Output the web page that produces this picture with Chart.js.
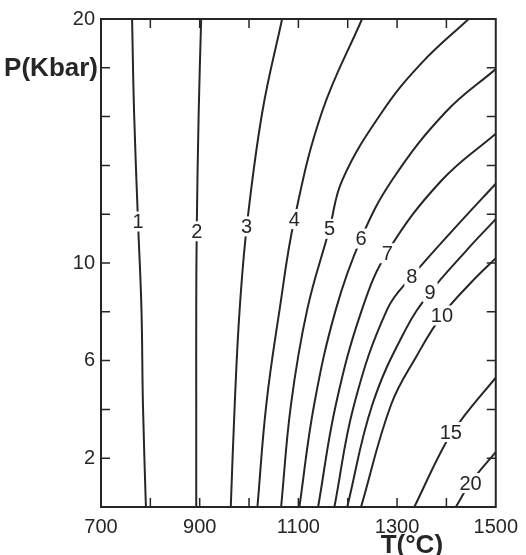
<!DOCTYPE html>
<html>
<head>
<meta charset="utf-8">
<script src="https://cdn.jsdelivr.net/npm/chart.js@4.4.1/dist/chart.umd.min.js"></script>
<style>
  html, body { margin: 0; padding: 0; background: #fff; }
</style>
</head>
<body>
<canvas id="chart" width="526" height="555"></canvas>
<script>
// curves as [T (°C), P (kbar)] pairs
const curve1 = [[791,0],[785,4.2],[782,8.1],[775,11.7],[767,16.2],[763,20]];
const curve2 = [[893,0],[893,4.2],[893,8.1],[894,11.3],[898,16.2],[903,20]];
const curve3 = [[963,0],[971,4.2],[981,8.1],[996,11.6],[1027,16.2],[1067,20]];
const curve4 = [[1017,0],[1035,4.2],[1062,8.1],[1092,11.8],[1148,16.2],[1229,20]];
const curve5 = [[1065,0],[1085,4.2],[1118,8.1],[1163,11.4],[1189,13.4],[1270,16.2],[1350,18.2],[1445,20]];
const curve6 = [[1102,0],[1132,4.2],[1176,8.1],[1227,11],[1290,13.4],[1399,16.2],[1500,17.95]];
const curve7 = [[1140,0],[1176,4.2],[1229,8.1],[1282,10.5],[1391,13.4],[1500,15.3]];
const curve8 = [[1173,0],[1213,4.2],[1280,8.1],[1330,9.45],[1420,11.5],[1500,13.25]];
const curve9 = [[1199,0],[1250,4.2],[1318,7.3],[1367,8.8],[1440,10.5],[1500,11.8]];
const curve10 = [[1227,0],[1288,4.2],[1340,6.2],[1391,7.85],[1450,9.2],[1500,10.2]];
const curve15 = [[1335,0],[1398,2.6],[1435,3.7],[1500,5.3]];
const curve20 = [[1419,0],[1449,1.0],[1500,2.25]];

const curves = [curve1, curve2, curve3, curve4, curve5, curve6, curve7, curve8, curve9, curve10, curve15, curve20];

// label text and where it sits on its curve
const labelText = ['1','2','3','4','5','6','7','8','9','10','15','20'];
const labelT = [775, 894, 995, 1092, 1163, 1227, 1280, 1330, 1367, 1391, 1409, 1449];
const labelP = [11.7, 11.3, 11.5, 11.8, 11.4, 11.0, 10.4, 9.45, 8.8, 7.85, 3.07, 0.98];

const xTickLabels = [700, 900, 1100, 1300, 1500];
const yTickLabels = [2, 6, 10, 20];

const ink = '#262626';
const font = 'Liberation Sans, Arial, sans-serif';

// frame, inward ticks, curve labels and axis titles
const framePlugin = {
  id: 'frame',
  afterDatasetsDraw(chart) {
    const c = chart.ctx;
    const a = chart.chartArea;
    const xs = chart.scales.x, ys = chart.scales.y;
    c.save();

    // numbers on the curves, with a white gap under them
    c.font = '20px ' + font;
    c.textAlign = 'center';
    c.textBaseline = 'middle';
    labelText.forEach((t, i) => {
      const px = xs.getPixelForValue(labelT[i]);
      const py = ys.getPixelForValue(labelP[i]);
      const w = c.measureText(t).width + 4;
      c.fillStyle = '#fff';
      c.fillRect(px - w / 2, py - 10, w, 20);
      c.fillStyle = ink;
      c.fillText(t, px, py + 1);
    });

    // box
    c.strokeStyle = ink;
    c.lineWidth = 2;
    c.strokeRect(a.left, a.top, a.right - a.left, a.bottom - a.top);

    // inward ticks on all four sides
    const len = 9;
    c.lineWidth = 1.5;
    c.beginPath();
    xs.ticks.forEach(t => {
      if (t.value <= xs.min || t.value >= xs.max) return;
      const px = xs.getPixelForValue(t.value);
      c.moveTo(px, a.bottom); c.lineTo(px, a.bottom - len);
      c.moveTo(px, a.top); c.lineTo(px, a.top + len);
    });
    ys.ticks.forEach(t => {
      if (t.value <= ys.min || t.value >= ys.max) return;
      const py = ys.getPixelForValue(t.value);
      c.moveTo(a.left, py); c.lineTo(a.left + len, py);
      c.moveTo(a.right, py); c.lineTo(a.right - len, py);
    });
    c.stroke();

    // axis titles
    c.fillStyle = ink;
    c.font = 'bold 26px ' + font;
    c.textAlign = 'right';
    c.fillText('P(Kbar)', a.left - 3, ys.getPixelForValue(18) + 1);
    c.textAlign = 'center';
    c.fillText('T(°C)', xs.getPixelForValue(1330), a.bottom + 39);
    c.restore();
  }
};

new Chart(document.getElementById('chart'), {
  type: 'scatter',
  data: {
    datasets: curves.map(cv => ({
      data: cv.map(p => ({ x: p[0], y: p[1] })),
      showLine: true,
      borderColor: ink,
      borderWidth: 2,
      pointRadius: 0,
      tension: 0.4,
      fill: false
    }))
  },
  options: {
    responsive: false,
    animation: false,
    layout: { padding: { top: 19, right: 29, left: 0, bottom: 0 } },
    plugins: {
      legend: { display: false },
      tooltip: { enabled: false }
    },
    scales: {
      x: {
        type: 'linear',
        min: 700,
        max: 1500,
        grid: { display: false, drawTicks: false },
        border: { display: false },
        ticks: {
          stepSize: 100,
          padding: 8,
          autoSkip: false,
          maxRotation: 0,
          color: ink,
          font: { family: font, size: 20 },
          callback: v => xTickLabels.includes(v) ? String(v) : ''
        },
        afterFit: s => { s.height = 48; }
      },
      y: {
        type: 'linear',
        min: 0,
        max: 20,
        grid: { display: false, drawTicks: false },
        border: { display: false },
        ticks: {
          stepSize: 2,
          padding: 6,
          autoSkip: false,
          color: ink,
          font: { family: font, size: 20 },
          callback: v => yTickLabels.includes(v) ? String(v) : ''
        },
        afterFit: s => { s.width = 101; }
      }
    }
  },
  plugins: [framePlugin]
});
</script>
</body>
</html>
